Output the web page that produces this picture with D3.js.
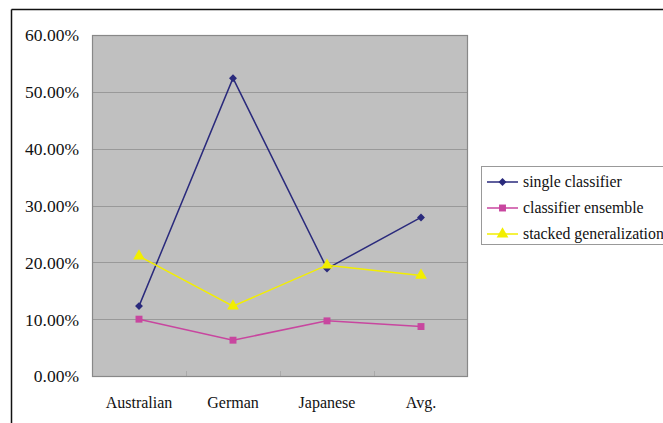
<!DOCTYPE html>
<html>
<head>
<meta charset="utf-8">
<script src="https://cdn.jsdelivr.net/npm/d3@7"></script>
<style>
  html, body { margin: 0; padding: 0; background: #fff; }
  svg { display: block; }
  svg text { font-family: "Liberation Serif", "Times New Roman", serif !important; fill: #111; }
</style>
</head>
<body>
<svg id="chart" width="663" height="423"></svg>
<script>
// Datasets and methods
const categories = ["Australian", "German", "Japanese", "Avg."];
const singleClassifier = [0.123, 0.524, 0.189, 0.279];
const classifierEnsemble = [0.100, 0.063, 0.097, 0.087];
const stackedGeneralization = [0.211, 0.123, 0.195, 0.177];
const yTicks = [0, 0.1, 0.2, 0.3, 0.4, 0.5, 0.6];

const series = [
  { name: "single classifier", values: singleClassifier, color: "#2a2a7c", marker: d3.symbolDiamond2, size: 40 },
  { name: "classifier ensemble", values: classifierEnsemble, color: "#c8469f", marker: d3.symbolSquare, size: 48 },
  { name: "stacked generalization", values: stackedGeneralization, color: "#f2ee00", marker: d3.symbolTriangle, size: 60 }
];

const svg = d3.select("#chart");

// Outer frame (top and left edges visible)
svg.append("line").attr("x1", 11.5).attr("y1", 9.5).attr("x2", 663).attr("y2", 9.5)
  .attr("stroke", "#111").attr("stroke-width", 1.5);
svg.append("line").attr("x1", 11.5).attr("y1", 9.5).attr("x2", 11.5).attr("y2", 423)
  .attr("stroke", "#111").attr("stroke-width", 1.5);

const plot = { left: 92, top: 35, right: 468, bottom: 376 };

const x = d3.scaleBand().domain(categories).range([plot.left, plot.right]);
const y = d3.scaleLinear().domain([0, 0.6]).range([plot.bottom, plot.top]);

// Plot area background
svg.append("rect")
  .attr("x", plot.left).attr("y", plot.top)
  .attr("width", plot.right - plot.left).attr("height", plot.bottom - plot.top)
  .attr("fill", "#c0c0c0");

// Horizontal gridlines
svg.append("g").selectAll("line").data(yTicks.slice(1, -1)).join("line")
  .attr("x1", plot.left).attr("x2", plot.right)
  .attr("y1", d => Math.round(y(d)) + 0.5).attr("y2", d => Math.round(y(d)) + 0.5)
  .attr("stroke", "#999").attr("stroke-width", 1);

// Category boundary ticks along the bottom edge
svg.append("g").selectAll("line").data(categories.slice(1)).join("line")
  .attr("x1", d => Math.round(x(d)) + 0.5).attr("x2", d => Math.round(x(d)) + 0.5)
  .attr("y1", plot.bottom).attr("y2", plot.bottom - 5)
  .attr("stroke", "#aaa").attr("stroke-width", 1);

// Plot border
svg.append("rect")
  .attr("x", plot.left + 0.5).attr("y", plot.top + 0.5)
  .attr("width", plot.right - plot.left - 1).attr("height", plot.bottom - plot.top)
  .attr("fill", "none").attr("stroke", "#888").attr("stroke-width", 1.2);

// Y axis labels
const yAxis = d3.axisLeft(y).tickValues(yTicks)
  .tickFormat(d => (d * 100).toFixed(2) + "%").tickSize(0).tickPadding(13);
const gy = svg.append("g").attr("transform", `translate(${plot.left},0)`).call(yAxis)
  .attr("font-family", null).attr("font-size", 17.5);
gy.select(".domain").remove();
gy.selectAll("text").attr("dy", "0.34em");

// X axis labels
const xAxis = d3.axisBottom(x).tickSize(0).tickPadding(21);
const gx = svg.append("g").attr("transform", `translate(0,${plot.bottom})`).call(xAxis)
  .attr("font-family", null).attr("font-size", 16);
gx.select(".domain").remove();

// Lines and markers
const cx = d => x(d) + x.bandwidth() / 2;
const line = d3.line().x(d => cx(d.cat)).y(d => y(d.v));

series.forEach(s => {
  const pts = categories.map((c, i) => ({ cat: c, v: s.values[i] }));
  svg.append("path").datum(pts)
    .attr("d", line).attr("fill", "none")
    .attr("stroke", s.color).attr("stroke-width", 1.5);
  svg.append("g").selectAll("path").data(pts).join("path")
    .attr("transform", d => `translate(${cx(d.cat)},${y(d.v)})`)
    .attr("d", d3.symbol().type(s.marker).size(s.size))
    .attr("fill", s.color);
});

// Legend
const legend = svg.append("g");
legend.append("rect")
  .attr("x", 481.5).attr("y", 166.5).attr("width", 200).attr("height", 78)
  .attr("fill", "#fff").attr("stroke", "#999").attr("stroke-width", 1);

const rowY = [182, 208, 234];
series.forEach((s, i) => {
  const g = legend.append("g").attr("transform", `translate(0,${rowY[i]})`);
  g.append("line").attr("x1", 487).attr("x2", 518).attr("y1", 0).attr("y2", 0)
    .attr("stroke", s.color).attr("stroke-width", 1.5);
  g.append("path").attr("transform", "translate(502.5,0)")
    .attr("d", d3.symbol().type(s.marker).size(s.size)).attr("fill", s.color);
  g.append("text").attr("x", 523).attr("y", 0).attr("dy", "0.34em")
    .attr("font-size", 15.8).text(s.name);
});
</script>
</body>
</html>
